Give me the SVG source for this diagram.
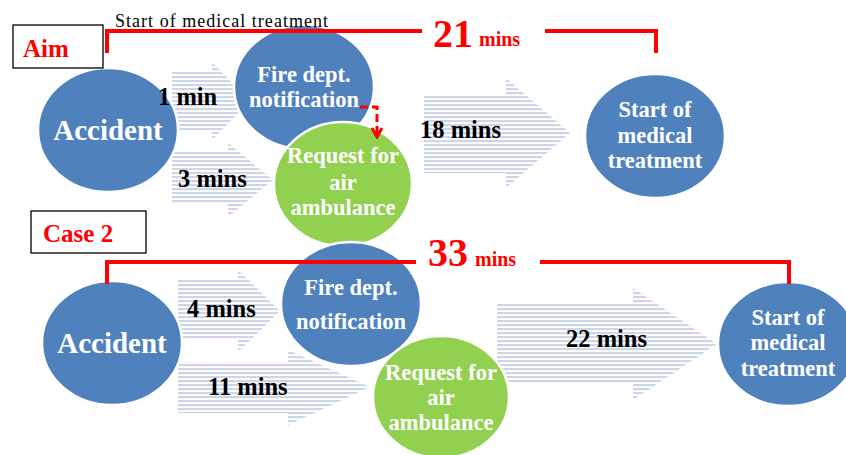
<svg xmlns="http://www.w3.org/2000/svg" width="846" height="455" viewBox="0 0 846 455">
<defs>
<pattern id="stripes" patternUnits="userSpaceOnUse" width="8" height="4">
<rect x="0" y="0" width="8" height="2.2" fill="#cdd6e7"/>
</pattern>
<marker id="vhead" viewBox="0 0 12 12" refX="10" refY="6" markerWidth="12" markerHeight="12" markerUnits="userSpaceOnUse" orient="auto">
<path d="M1,1 L10,6 L1,11" fill="none" stroke="#ff0000" stroke-width="3"/>
</marker>
</defs>
<style>
.blue{fill:#4f81bd;stroke:#ffffff;stroke-width:2.5}
.green{fill:#92d050;stroke:#ffffff;stroke-width:2.5}
.ntxt{font-family:"Liberation Serif","Times New Roman",serif;font-weight:bold;fill:#ffffff;text-anchor:middle;font-size:22.5px}
.acc{font-size:29px}
.lbl{font-family:"Liberation Serif","Times New Roman",serif;font-weight:bold;fill:#000000;font-size:24.5px}
.big{font-family:"Liberation Serif","Times New Roman",serif;font-weight:bold;fill:#ff0000}
.br{fill:none;stroke:#ff0000;stroke-width:4}
.arrow{fill:url(#stripes)}
.box{fill:#ffffff;stroke:#000000;stroke-width:1.3}
</style>
<rect width="846" height="455" fill="#ffffff"/>

<g id="connectors">
<polygon class="arrow" points="172,72 212,72 212,62 250,101 212,140 212,130 172,130"/>
<polygon class="arrow" points="172,152 228,152 228,143 273,180 228,217 228,203 172,203"/>
<polygon class="arrow" points="424,95 506,95 506,78 570,133 506,188 506,173 424,173"/>
<polygon class="arrow" points="178,280 238,280 238,270 280,311 238,352 238,340 178,340"/>
<polygon class="arrow" points="178,362 288,362 288,350 370,387 288,425 288,413 178,413"/>
<polygon class="arrow" points="497,303 633,303 633,288 717,344 633,400 633,383 497,383"/>
</g>

<g id="node-aim-accident">
<ellipse class="blue" cx="108" cy="130" rx="70" ry="62"/>
<text class="ntxt acc" x="108" y="140">Accident</text>
</g>
<g id="node-aim-fire">
<ellipse class="blue" cx="304" cy="87" rx="70" ry="62"/>
<text class="ntxt" x="304" y="82">Fire dept.</text>
<text class="ntxt" x="304" y="107">notification</text>
</g>
<g id="node-aim-request">
<ellipse class="green" cx="343" cy="184" rx="69" ry="62"/>
<text class="ntxt" x="343" y="163">Request for</text>
<text class="ntxt" x="343" y="190">air</text>
<text class="ntxt" x="343" y="215">ambulance</text>
</g>
<g id="node-aim-start">
<ellipse class="blue" cx="655" cy="136" rx="70" ry="62"/>
<text class="ntxt" x="655" y="117">Start of</text>
<text class="ntxt" x="655" y="143">medical</text>
<text class="ntxt" x="655" y="168">treatment</text>
</g>

<g id="node-c2-accident">
<ellipse class="blue" cx="112" cy="343" rx="70" ry="62"/>
<text class="ntxt acc" x="112" y="353">Accident</text>
</g>
<g id="node-c2-fire">
<ellipse class="blue" cx="351" cy="304" rx="70" ry="62"/>
<text class="ntxt" x="351" y="295">Fire dept.</text>
<text class="ntxt" x="351" y="329">notification</text>
</g>
<g id="node-c2-request">
<ellipse class="green" cx="441" cy="397" rx="68" ry="61"/>
<text class="ntxt" x="441" y="380">Request for</text>
<text class="ntxt" x="441" y="405">air</text>
<text class="ntxt" x="441" y="430">ambulance</text>
</g>
<g id="node-c2-start">
<ellipse class="blue" cx="788" cy="344" rx="70" ry="62"/>
<text class="ntxt" x="788" y="325">Start of</text>
<text class="ntxt" x="788" y="350">medical</text>
<text class="ntxt" x="788" y="376">treatment</text>
</g>

<g id="labels">
<text class="lbl" x="158" y="105">1 min</text>
<text class="lbl" x="178" y="187">3 mins</text>
<text class="lbl" x="420" y="138">18 mins</text>
<text class="lbl" x="187" y="317">4 mins</text>
<text class="lbl" x="208" y="395">11 mins</text>
<text class="lbl" x="566" y="347">22 mins</text>
</g>

<g id="dashed-arrow">
<path d="M360,107 L377,107 L377,137" fill="none" stroke="#ff0000" stroke-width="3" stroke-dasharray="8,4" marker-end="url(#vhead)"/>
</g>

<g id="aim-bracket">
<path class="br" d="M107,53 L107,31 L422,31 M545,31 L656,31 L656,53"/>
<text class="big" x="433" y="47" font-size="40">21</text>
<text class="big" x="479" y="46" font-size="20">mins</text>
<text x="115" y="27" font-family="'Liberation Serif','Times New Roman',serif" font-size="18" fill="#000000" textLength="213" lengthAdjust="spacing">Start of medical treatment</text>
</g>
<g id="c2-bracket">
<path class="br" d="M107,284 L107,262 L416,262 M540,262 L789,262 L789,284"/>
<text class="big" x="428" y="266" font-size="40">33</text>
<text class="big" x="475" y="266" font-size="20">mins</text>
</g>

<g id="box-aim">
<rect class="box" x="13" y="25" width="90" height="43"/>
<text class="big" x="23" y="57" font-size="25">Aim</text>
</g>
<g id="box-case2">
<rect class="box" x="31" y="211" width="115" height="42"/>
<text class="big" x="43" y="242" font-size="25">Case 2</text>
</g>
</svg>
